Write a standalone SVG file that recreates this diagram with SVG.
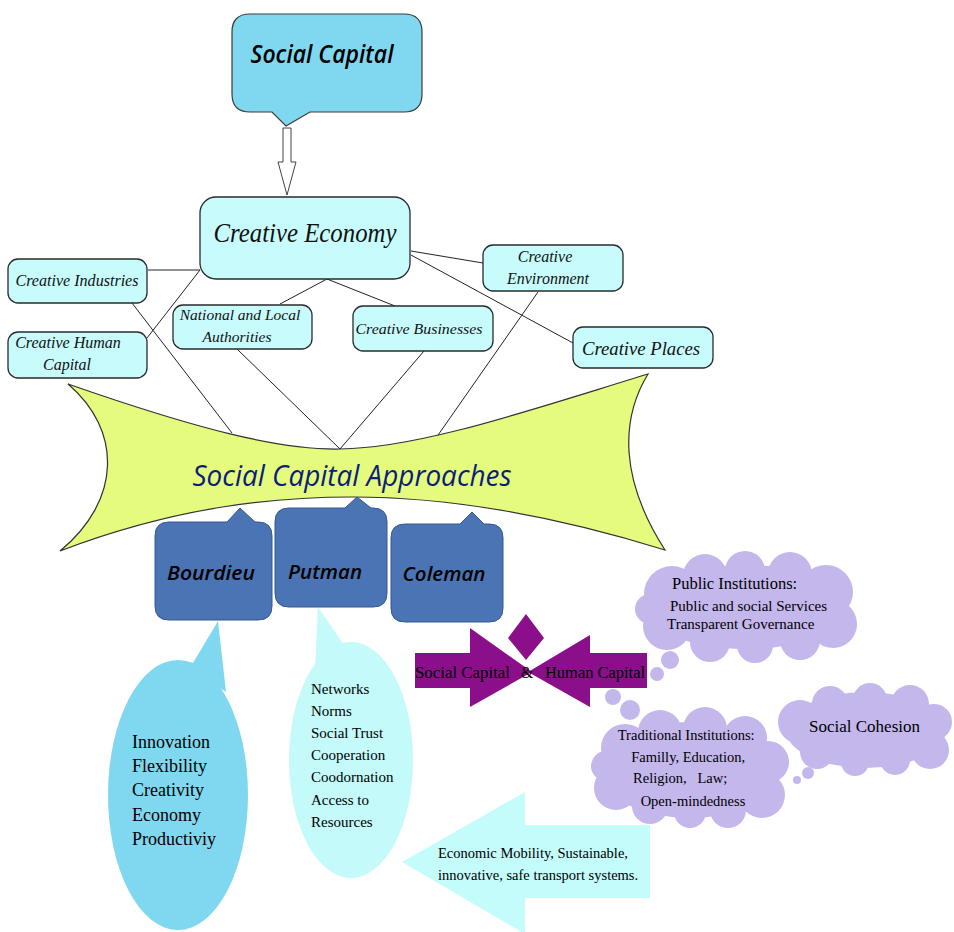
<svg xmlns="http://www.w3.org/2000/svg" width="954" height="932" viewBox="0 0 954 932">
<style>
.ce{fill:#c8fcfc;stroke:#2a2a2a;stroke-width:1.3}
.ct{font-family:"Liberation Serif",serif;font-style:italic;fill:#111}
.blue{fill:#4a74b4;stroke:#35588f;stroke-width:1}
.bt{font-family:"Open Sans","DejaVu Sans",sans-serif;font-style:italic;font-weight:600;font-size:20px;fill:#000}
.ser{font-family:"Liberation Serif",serif;fill:#000}
.lav{fill:#c3b7ec}
.ln{stroke:#222;stroke-width:1;fill:none}
</style>
<rect width="954" height="932" fill="#fff"/>

<g id="connectors">
<line class="ln" x1="148" y1="270" x2="200" y2="270"/>
<line class="ln" x1="200" y1="270" x2="147" y2="338"/>
<line class="ln" x1="132" y1="303" x2="232" y2="433"/>
<line class="ln" x1="327" y1="279" x2="280" y2="304"/>
<line class="ln" x1="327" y1="279" x2="395" y2="306"/>
<line class="ln" x1="237" y1="349" x2="340" y2="449"/>
<line class="ln" x1="424" y1="351" x2="340" y2="449"/>
<line class="ln" x1="411" y1="251" x2="483" y2="263"/>
<line class="ln" x1="411" y1="255" x2="573" y2="343"/>
<line class="ln" x1="538" y1="292" x2="436" y2="438"/>
<polygon points="283,128 291,128 291,162 296,162 287,195 278,162 283,162" fill="#fff" stroke="#444" stroke-width="1"/>
</g>

<g id="social-capital">
<path d="M250,14 H404 Q422,14 422,32 V94 Q422,112 404,112 H310 L286,126 L272,112 H250 Q232,112 232,94 V32 Q232,14 250,14 Z" fill="#80d8f0" stroke="#3a3a3a" stroke-width="1.2"/>
<text x="322" y="63" text-anchor="middle" class="bt" style="font-size:25px" textLength="143" lengthAdjust="spacingAndGlyphs">Social Capital</text>
</g>

<g id="creative-economy">
<rect class="ce" x="200" y="197" width="210" height="82" rx="16"/>
<text class="ct" x="305" y="242" text-anchor="middle" font-size="28" textLength="183" lengthAdjust="spacingAndGlyphs">Creative Economy</text>
</g>

<g id="creative-industries">
<rect class="ce" x="8" y="259" width="139" height="44" rx="10"/>
<text class="ct" x="77" y="286" text-anchor="middle" font-size="16" textLength="123" lengthAdjust="spacingAndGlyphs">Creative Industries</text>
</g>

<g id="creative-human-capital">
<rect class="ce" x="8" y="332" width="139" height="46" rx="10"/>
<text class="ct" x="68" y="348" text-anchor="middle" font-size="16">Creative Human</text>
<text class="ct" x="67" y="370" text-anchor="middle" font-size="16">Capital</text>
</g>

<g id="national-local">
<rect class="ce" x="173" y="305" width="139" height="44" rx="10"/>
<text class="ct" x="240" y="320" text-anchor="middle" font-size="15.5">National and Local</text>
<text class="ct" x="237" y="342" text-anchor="middle" font-size="15.5">Authorities</text>
</g>

<g id="creative-businesses">
<rect class="ce" x="353" y="306" width="140" height="45" rx="10"/>
<text class="ct" x="419" y="334" text-anchor="middle" font-size="15.5" textLength="127" lengthAdjust="spacingAndGlyphs">Creative Businesses</text>
</g>

<g id="creative-environment">
<rect class="ce" x="483" y="245" width="140" height="46" rx="10"/>
<text class="ct" x="545" y="262" text-anchor="middle" font-size="16">Creative</text>
<text class="ct" x="548" y="284" text-anchor="middle" font-size="16">Environment</text>
</g>

<g id="creative-places">
<rect class="ce" x="573" y="327" width="140" height="41" rx="10"/>
<text class="ct" x="641" y="355" text-anchor="middle" font-size="18" textLength="118" lengthAdjust="spacingAndGlyphs">Creative Places</text>
</g>

<g id="approaches">
<path d="M68,384 C200,430 280,450 340,449 C420,448 530,410 648,374 C620,420 620,480 665,550 C520,505 420,497 352,497 C280,497 180,505 60,551 C122,500 122,430 68,384 Z" fill="#e4fb7e" stroke="#333" stroke-width="1.2"/>
<text x="352" y="486" text-anchor="middle" font-family="'Open Sans','DejaVu Sans',sans-serif" font-style="italic" font-size="29" fill="#0b1f7a" textLength="319" lengthAdjust="spacingAndGlyphs">Social Capital Approaches</text>
</g>

<g id="bourdieu-bubble">
<ellipse cx="178" cy="795" rx="70" ry="135" fill="#80d8f0"/>
<polygon points="218,621 190,668 226,692" fill="#80d8f0"/>
<text class="ser" font-size="18">
<tspan x="132" y="748">Innovation</tspan>
<tspan x="132" y="772">Flexibility</tspan>
<tspan x="132" y="796">Creativity</tspan>
<tspan x="132" y="821">Economy</tspan>
<tspan x="132" y="845">Productiviy</tspan>
</text>
</g>

<g id="putman-bubble">
<ellipse cx="351" cy="760" rx="62" ry="118" fill="#c4fafa"/>
<polygon points="318,607 315,668 346,648" fill="#c4fafa"/>
<text class="ser" font-size="15">
<tspan x="311" y="694">Networks</tspan>
<tspan x="311" y="716">Norms</tspan>
<tspan x="311" y="738">Social Trust</tspan>
<tspan x="311" y="760">Cooperation</tspan>
<tspan x="311" y="782">Coodornation</tspan>
<tspan x="311" y="805">Access to</tspan>
<tspan x="311" y="827">Resources</tspan>
</text>
</g>

<g id="bourdieu">
<path class="blue" d="M169,522 H227 L240,508 L255,522 H258 Q272,522 272,536 V606 Q272,620 258,620 H169 Q155,620 155,606 V536 Q155,522 169,522 Z"/>
<text class="bt" x="211" y="580" text-anchor="middle" textLength="88" lengthAdjust="spacingAndGlyphs">Bourdieu</text>
</g>

<g id="putman">
<path class="blue" d="M289,508 H345 L357,497 L371,508 H373 Q387,508 387,522 V593 Q387,607 373,607 H289 Q275,607 275,593 V522 Q275,508 289,508 Z"/>
<text class="bt" x="325" y="579" text-anchor="middle" textLength="74" lengthAdjust="spacingAndGlyphs">Putman</text>
</g>

<g id="coleman">
<path class="blue" d="M405,524 H460 L472,512 L484,524 H489 Q503,524 503,538 V608 Q503,622 489,622 H405 Q391,622 391,608 V538 Q391,524 405,524 Z"/>
<text class="bt" x="444" y="581" text-anchor="middle" textLength="83" lengthAdjust="spacingAndGlyphs">Coleman</text>
</g>

<g id="social-human-capital">
<polygon points="415,653 470,653 470,628 532,672 470,707 470,688 415,688" fill="#8b0f8b"/>
<polygon points="647,653 590,653 590,635 528,672 590,707 590,688 647,688" fill="#8b0f8b"/>
<polygon points="526,614 544,638 526,660 508,638" fill="#8b0f8b"/>
<text class="ser" x="415" y="678" font-size="16" textLength="95" lengthAdjust="spacingAndGlyphs">Social Capital</text>
<text class="ser" x="521" y="678" font-size="16">&amp;</text>
<text class="ser" x="545" y="678" font-size="16" textLength="100" lengthAdjust="spacingAndGlyphs">Human Capital</text>
</g>

<g id="public-institutions" class="lav">
<ellipse cx="746" cy="607" rx="100" ry="42"/>
<circle cx="672" cy="594" r="28"/>
<circle cx="705" cy="576" r="22"/>
<circle cx="745" cy="571" r="20"/>
<circle cx="790" cy="574" r="22"/>
<circle cx="826" cy="592" r="27"/>
<circle cx="833" cy="624" r="24"/>
<circle cx="800" cy="640" r="20"/>
<circle cx="755" cy="645" r="18"/>
<circle cx="710" cy="642" r="20"/>
<circle cx="667" cy="626" r="24"/>
<circle cx="650" cy="609" r="15"/>
<circle cx="670" cy="660" r="9"/>
<circle cx="657" cy="674" r="7"/>
<text class="ser" x="672" y="589" font-size="16.5">Public Institutions:</text>
<text class="ser" x="670" y="611" font-size="15">Public and social Services</text>
<text class="ser" x="667" y="629" font-size="15">Transparent Governance</text>
</g>

<g id="traditional-institutions" class="lav">
<ellipse cx="690" cy="770" rx="90" ry="48"/>
<circle cx="625" cy="748" r="24"/>
<circle cx="660" cy="732" r="22"/>
<circle cx="705" cy="729" r="22"/>
<circle cx="745" cy="738" r="22"/>
<circle cx="768" cy="762" r="21"/>
<circle cx="762" cy="795" r="23"/>
<circle cx="728" cy="810" r="18"/>
<circle cx="690" cy="812" r="16"/>
<circle cx="650" cy="806" r="18"/>
<circle cx="616" cy="788" r="22"/>
<circle cx="606" cy="766" r="15"/>
<circle cx="613" cy="697" r="8"/>
<circle cx="630" cy="710" r="10"/>
<text class="ser" font-size="14.5" text-anchor="middle">
<tspan x="688" y="740">Traditional Institutions:</tspan>
<tspan x="690" y="762">Familly, Education,</tspan>
<tspan x="682" y="783" xml:space="preserve">Religion,   Law;</tspan>
<tspan x="693" y="806">Open-mindedness</tspan>
</text>
</g>

<g id="social-cohesion" class="lav">
<ellipse cx="866" cy="730" rx="80" ry="38"/>
<circle cx="800" cy="722" r="22"/>
<circle cx="830" cy="704" r="18"/>
<circle cx="870" cy="700" r="17"/>
<circle cx="910" cy="704" r="19"/>
<circle cx="934" cy="722" r="18"/>
<circle cx="930" cy="750" r="19"/>
<circle cx="895" cy="760" r="15"/>
<circle cx="855" cy="762" r="14"/>
<circle cx="817" cy="752" r="17"/>
<circle cx="808" cy="773" r="6"/>
<circle cx="797" cy="780" r="4"/>
<text class="ser" x="809" y="732" font-size="17">Social Cohesion</text>
</g>

<g id="mobility-arrow">
<polygon points="402,862 525,792 525,825 650,825 650,898 525,898 525,934" fill="#c4fcfc"/>
<text class="ser" x="438" y="858" font-size="14.5">Economic Mobility, Sustainable,</text>
<text class="ser" x="438" y="880" font-size="14.5">innovative, safe transport systems.</text>
</g>
</svg>
